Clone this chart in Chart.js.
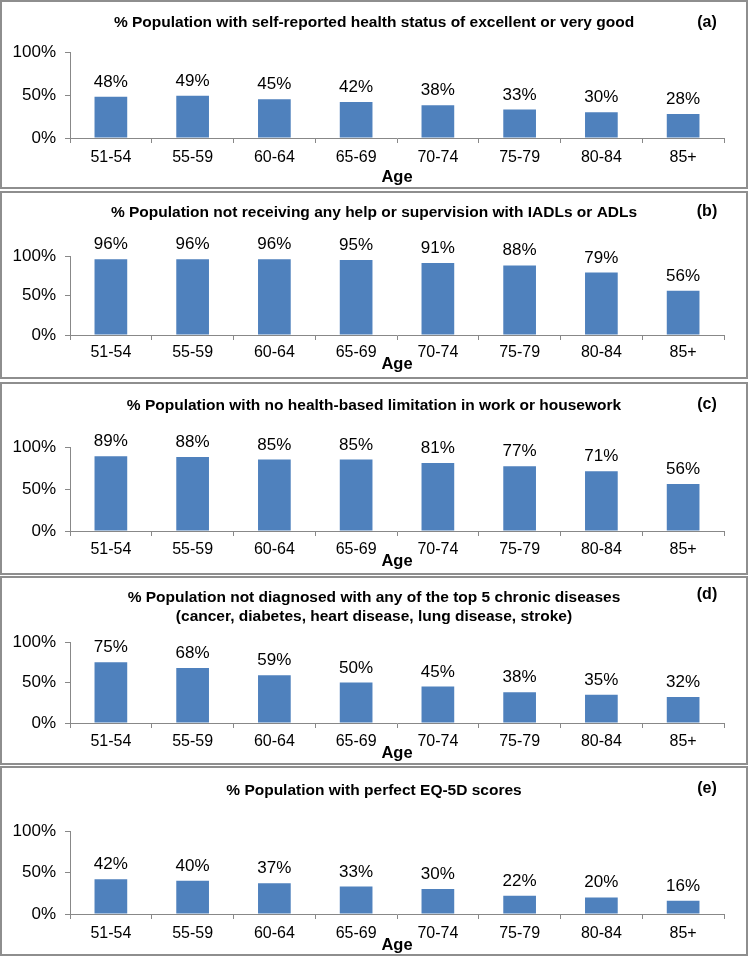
<!DOCTYPE html>
<html>
<head>
<meta charset="utf-8">
<script src="https://cdn.jsdelivr.net/npm/chart.js@4.4.1/dist/chart.umd.min.js"></script>
<style>
  body { margin: 0; background: #fff; }
  .panel { position: absolute; left: 0; width: 748px; box-sizing: border-box; border: 2px solid #8e8e8e; background: #fff; }
  .panel canvas { display: block; }
</style>
</head>
<body>
<div id="wrap"></div>
<script>
// data
const ageGroups = ['51-54', '55-59', '60-64', '65-69', '70-74', '75-79', '80-84', '85+'];
const yTicks = [0, 50, 100];
const healthExcellent = [48, 49, 45, 42, 38, 33, 30, 28];
const noHelpIadlAdl = [96, 96, 96, 95, 91, 88, 79, 56];
const noWorkLimitation = [89, 88, 85, 85, 81, 77, 71, 56];
const noChronicDisease = [75, 68, 59, 50, 45, 38, 35, 32];
const perfectEq5d = [42, 40, 37, 33, 30, 22, 20, 16];
const panelTitles = [
    ['% Population with self-reported health status of excellent or very good'],
    ['% Population not receiving any help or supervision with IADLs or ADLs'],
    ['% Population with no health-based limitation in work or housework'],
    ['% Population not diagnosed with any of the top 5 chronic diseases', '(cancer, diabetes, heart disease, lung disease, stroke)'],
    ['% Population with perfect EQ-5D scores']
];
const panelTags = ['(a)', '(b)', '(c)', '(d)', '(e)'];
const axisTitle = 'Age';

const seriesList = [healthExcellent, noHelpIadlAdl, noWorkLimitation, noChronicDisease, perfectEq5d];

// panel placement (page px) and inner positions (canvas px)
const panelLayout = [
    { top: 0,   h: 189, plotTop: 50, plotBottom: 136, titleY: [21],     tagY: 21, ageY: 175, tickPad: 5 },
    { top: 191, h: 188, plotTop: 63, plotBottom: 142, titleY: [20],     tagY: 19, ageY: 171, tickPad: 3 },
    { top: 382, h: 193, plotTop: 63, plotBottom: 147, titleY: [22],     tagY: 21, ageY: 177, tickPad: 4 },
    { top: 576, h: 189, plotTop: 64, plotBottom: 145, titleY: [20, 39], tagY: 17, ageY: 175, tickPad: 4 },
    { top: 766, h: 190, plotTop: 63, plotBottom: 146, titleY: [23],     tagY: 21, ageY: 177, tickPad: 5 }
];

const FONT = '"Liberation Sans", Arial, sans-serif';
const AXIS_GRAY = '#888888';
const BAR_BLUE = '#4F81BD';
const X_AXIS_H = 30;

const decorPlugin = {
    id: 'decor',
    afterDatasetsDraw(chart, args, opts) {
        const ctx = chart.ctx;
        const meta = chart.getDatasetMeta(0);
        const vals = chart.data.datasets[0].data;
        ctx.save();
        ctx.fillStyle = '#000';
        ctx.font = '17px ' + FONT;
        ctx.textAlign = 'center';
        ctx.textBaseline = 'alphabetic';
        meta.data.forEach((bar, i) => {
            ctx.fillText(vals[i] + '%', bar.x, bar.y - 10);
        });

        // title lines
        ctx.font = 'bold 15.5px ' + FONT;
        ctx.textBaseline = 'middle';
        opts.title.forEach((line, i) => {
            ctx.fillText(line, chart.width / 2, opts.titleY[i]);
        });

        // panel tag
        ctx.font = 'bold 16px ' + FONT;
        ctx.fillText(opts.tag, 705, opts.tagY);

        // x axis title
        ctx.font = 'bold 16.5px ' + FONT;
        const area = chart.chartArea;
        ctx.fillText(axisTitle, (area.left + area.right) / 2, opts.ageY);
        ctx.restore();
    }
};

const wrap = document.getElementById('wrap');

seriesList.forEach((values, idx) => {
    const lay = panelLayout[idx];
    const div = document.createElement('div');
    div.className = 'panel';
    div.style.top = lay.top + 'px';
    div.style.height = lay.h + 'px';
    const canvasW = 744, canvasH = lay.h - 4;
    const canvas = document.createElement('canvas');
    canvas.width = canvasW;
    canvas.height = canvasH;
    canvas.style.width = canvasW + 'px';
    canvas.style.height = canvasH + 'px';
    div.appendChild(canvas);
    wrap.appendChild(div);

    new Chart(canvas.getContext('2d'), {
        type: 'bar',
        data: {
            labels: ageGroups,
            datasets: [{ data: values, backgroundColor: BAR_BLUE, barPercentage: 0.4, categoryPercentage: 1 }]
        },
        options: {
            responsive: false, animation: false, maintainAspectRatio: false,
            layout: { padding: { top: lay.plotTop, bottom: canvasH - lay.plotBottom - X_AXIS_H, left: 0, right: 22 } },
            scales: {
                x: {
                    grid: { display: true, drawOnChartArea: false, drawTicks: true, tickLength: 5, color: AXIS_GRAY, offset: true },
                    border: { color: AXIS_GRAY, width: 1 },
                    ticks: { color: '#000', font: { family: FONT, size: 16 }, padding: lay.tickPad, maxRotation: 0, autoSkip: false },
                    afterFit: s => { s.height = X_AXIS_H; }
                },
                y: {
                    min: yTicks[0], max: yTicks[yTicks.length - 1],
                    afterBuildTicks: s => { s.ticks = yTicks.map(v => ({ value: v })); },
                    grid: { display: true, drawOnChartArea: false, drawTicks: true, tickLength: 5, color: AXIS_GRAY },
                    border: { color: AXIS_GRAY, width: 1 },
                    ticks: { color: '#000', font: { family: FONT, size: 17 }, padding: 9, callback: v => v + '%' },
                    afterFit: s => { s.width = 68; }
                }
            },
            plugins: {
                legend: { display: false },
                tooltip: { enabled: false },
                decor: { title: panelTitles[idx], titleY: lay.titleY, tag: panelTags[idx], tagY: lay.tagY, ageY: lay.ageY }
            }
        },
        plugins: [decorPlugin]
    });
});
</script>
</body>
</html>
